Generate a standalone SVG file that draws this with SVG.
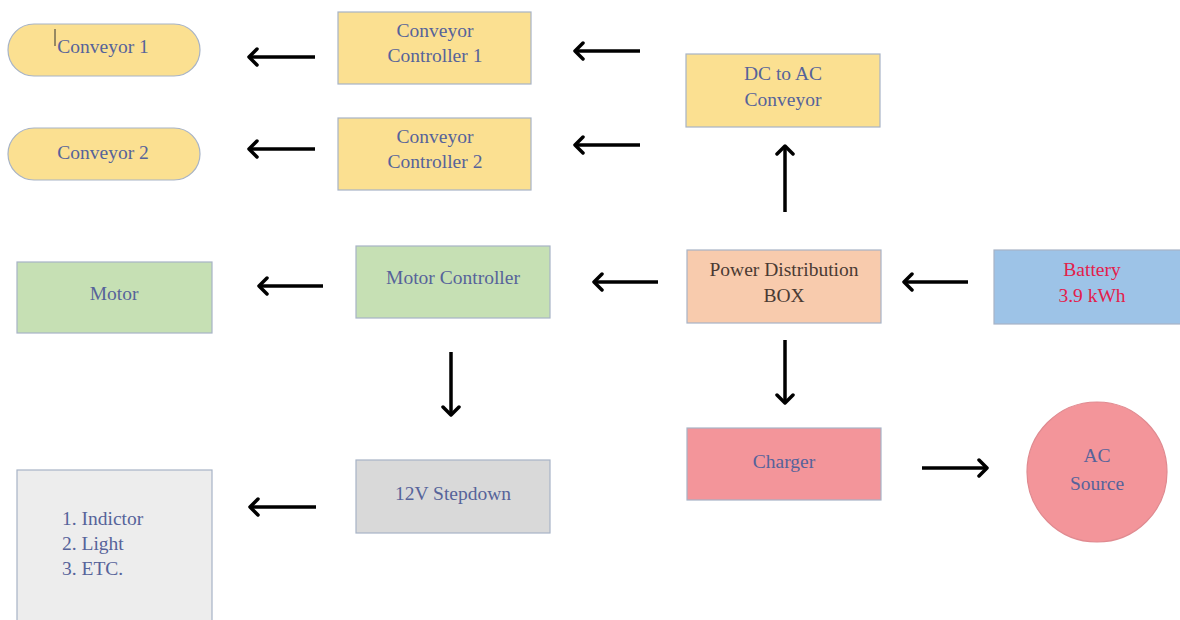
<svg xmlns="http://www.w3.org/2000/svg" width="1180" height="620" viewBox="0 0 1180 620" font-family="Liberation Serif" font-size="19.5">
<defs>
<style>
text{fill:#56639a;text-anchor:middle}
.b{stroke:#a7b3c6;stroke-width:1.2}
.y{fill:#fbe091}.g{fill:#c6e0b4}.p{fill:#f8cbad}.bl{fill:#9dc3e7}.gr{fill:#d9d9d9}.lg{fill:#ededed}.pk{fill:#f3959a}
.a{stroke:#000;stroke-width:3.5;fill:none;marker-end:url(#h)}
</style>
<marker id="h" viewBox="0 0 12 20" refX="9" refY="10" markerWidth="12" markerHeight="20" markerUnits="userSpaceOnUse" orient="auto">
<path d="M2,2 L10,10 L2,18" fill="none" stroke="#000" stroke-width="3.5" stroke-linecap="round" stroke-linejoin="round"/>
</marker>
</defs>
<rect width="1180" height="620" fill="#fff"/>
<g id="conveyor1"><rect class="b y" x="8" y="24" width="192" height="52" rx="26"/><line x1="55" y1="29" x2="55" y2="46" stroke="#333" stroke-width="1"/><text x="103" y="53">Conveyor 1</text></g>
<g id="conveyor2"><rect class="b y" x="8" y="128" width="192" height="52" rx="26"/><text x="103" y="159">Conveyor 2</text></g>
<g id="cc1"><rect class="b y" x="338" y="12" width="193" height="72"/><text x="435" y="37">Conveyor</text><text x="435" y="62">Controller 1</text></g>
<g id="cc2"><rect class="b y" x="338" y="118" width="193" height="72"/><text x="435" y="143">Conveyor</text><text x="435" y="168">Controller 2</text></g>
<g id="dcac"><rect class="b y" x="686" y="54" width="194" height="73"/><text x="783" y="80">DC to AC</text><text x="783" y="106">Conveyor</text></g>
<g id="motor"><rect class="b g" x="17" y="262" width="195" height="71"/><text x="114" y="300">Motor</text></g>
<g id="motorctrl"><rect class="b g" x="356" y="246" width="194" height="72"/><text x="453" y="284">Motor Controller</text></g>
<g id="pdb"><rect class="b p" x="687" y="250" width="194" height="73"/><text x="784" y="276" style="fill:#4a3a33">Power Distribution</text><text x="784" y="302" style="fill:#4a3a33">BOX</text></g>
<g id="battery"><rect class="b bl" x="994" y="250" width="190" height="74"/><text x="1092" y="276" style="fill:#e3204b">Battery</text><text x="1092" y="302" style="fill:#e3204b">3.9 kWh</text></g>
<g id="stepdown"><rect class="b gr" x="356" y="460" width="194" height="73"/><text x="453" y="500">12V Stepdown</text></g>
<g id="loads"><rect class="b lg" x="17" y="470" width="195" height="155"/><text x="62" y="525" style="text-anchor:start">1. Indictor</text><text x="62" y="550" style="text-anchor:start">2. Light</text><text x="62" y="575" style="text-anchor:start">3. ETC.</text></g>
<g id="charger"><rect class="b pk" x="687" y="428" width="194" height="72"/><text x="784" y="468">Charger</text></g>
<g id="acsource"><circle class="pk" cx="1097" cy="472" r="70" stroke="#e08a90" stroke-width="1.2"/><text x="1097" y="462">AC</text><text x="1097" y="490">Source</text></g>
<g id="connectors">
<line class="a" x1="315" y1="57" x2="250" y2="57"/>
<line class="a" x1="315" y1="149" x2="250" y2="149"/>
<line class="a" x1="640" y1="51" x2="576" y2="51"/>
<line class="a" x1="640" y1="145" x2="576" y2="145"/>
<line class="a" x1="785" y1="212" x2="785" y2="147"/>
<line class="a" x1="658" y1="282" x2="595" y2="282"/>
<line class="a" x1="968" y1="282" x2="905" y2="282"/>
<line class="a" x1="323" y1="286" x2="260" y2="286"/>
<line class="a" x1="451" y1="352" x2="451" y2="414"/>
<line class="a" x1="785" y1="340" x2="785" y2="402"/>
<line class="a" x1="316" y1="507" x2="251" y2="507"/>
<line class="a" x1="922" y1="468" x2="986" y2="468"/>
</g>
</svg>
